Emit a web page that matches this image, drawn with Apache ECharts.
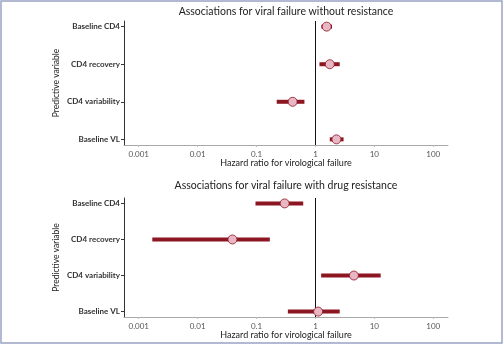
<!DOCTYPE html>
<html>
<head>
<meta charset="utf-8">
<script src="https://cdn.jsdelivr.net/npm/echarts@6/dist/echarts.min.js"></script>
<style>
  html, body { margin: 0; padding: 0; background: #fff; }
  #chart { width: 504px; height: 347px; }
</style>
</head>
<body>
<div id="chart"></div>
<script>
// predictors, top to bottom
const variables = ['Baseline CD4', 'CD4 recovery', 'CD4 variability', 'Baseline VL'];
const xTicks = [0.001, 0.01, 0.1, 1, 10, 100];

// panel 1: viral failure without resistance
const hrNoRes = [1.55, 1.75, 0.41, 2.27];
const loNoRes = [1.26, 1.17, 0.22, 1.75];
const hiNoRes = [1.91, 2.58, 0.65, 3.0];

// panel 2: viral failure with drug resistance
const hrRes = [0.30, 0.039, 4.5, 1.11];
const loRes = [0.096, 0.0017, 1.25, 0.34];
const hiRes = [0.62, 0.168, 12.8, 2.58];

const titles = [
  'Associations for viral failure without resistance',
  'Associations for viral failure with drug resistance'
];

const FONT = 'Lato, "Noto Sans", sans-serif';
const RED = '#8c1622';
const PINK = '#e8b6c4';

const chart = echarts.init(document.getElementById('chart'));

const grids = [
  { left: 124, right: 56, top: 21, height: 124 },
  { left: 124, right: 56, top: 198, height: 119 }
];

function xAxisFor(i) {
  return {
    type: 'log',
    logBase: 10,
    gridIndex: i,
    position: 'bottom',
    min: Math.pow(10, -3.25),
    max: Math.pow(10, 2.25),
    name: 'Hazard ratio for virological failure',
    nameLocation: 'middle',
    nameGap: 13,
    nameTextStyle: { fontFamily: FONT, fontSize: 9, color: '#222' },
    axisLine: { show: true, onZero: false, lineStyle: { color: '#a8a8a8', width: 1 } },
    axisTick: { show: true, length: 2, lineStyle: { color: '#bbb' }, customValues: xTicks },
    axisLabel: {
      customValues: xTicks,
      fontFamily: FONT, fontSize: 8, color: '#555', margin: 5,
      formatter: v => String(+v.toPrecision(3))
    },
    splitLine: { show: false },
    minorTick: { show: false }
  };
}

function yAxisFor(i) {
  return {
    type: 'value',
    gridIndex: i,
    inverse: true,
    min: -0.15,
    max: 3.15,
    name: 'Predictive variable',
    nameLocation: 'middle',
    nameGap: 63,
    nameMoveOverlap: false,
    nameRotate: 90,
    nameTextStyle: { fontFamily: FONT, fontSize: 8.5, color: '#222' },
    axisLine: { show: true, onZero: false, lineStyle: { color: '#333', width: 1 } },
    axisTick: { show: true, length: 3, lineStyle: { color: '#333' }, customValues: [0, 1, 2, 3] },
    axisLabel: {
      customValues: [0, 1, 2, 3],
      fontFamily: FONT, fontSize: 8, fontWeight: 'bold', color: '#333', margin: 4,
      formatter: v => variables[Math.round(v)]
    },
    splitLine: { show: false }
  };
}

function ciSeries(i, lo, hi) {
  return {
    type: 'custom',
    xAxisIndex: i,
    yAxisIndex: i,
    data: variables.map((_, k) => [lo[k], hi[k], k]),
    encode: { x: [0, 1], y: 2 },
    renderItem: (params, api) => {
      const a = api.coord([api.value(0), api.value(2)]);
      const b = api.coord([api.value(1), api.value(2)]);
      return {
        type: 'line',
        shape: { x1: a[0], y1: a[1], x2: b[0], y2: b[1] },
        style: { stroke: RED, lineWidth: 4 }
      };
    },
    z: 2
  };
}

function pointSeries(i, hr) {
  return {
    type: 'scatter',
    xAxisIndex: i,
    yAxisIndex: i,
    data: variables.map((_, k) => [hr[k], k]),
    symbolSize: 9,
    itemStyle: { color: PINK, borderColor: RED, borderWidth: 0.8, opacity: 1 },
    z: 4,
    markLine: {
      silent: true,
      symbol: 'none',
      label: { show: false },
      lineStyle: { color: '#111', type: 'solid', width: 1 },
      data: [{ xAxis: 1 }],
      z: 1
    }
  };
}

chart.setOption({
  animation: false,
  title: titles.map((t, i) => ({
    text: t,
    left: 281,
    top: i === 0 ? 1 : 175,
    textAlign: 'center',
    textStyle: { fontFamily: FONT, fontSize: 10.5, fontWeight: 'normal', color: '#222' }
  })),
  graphic: [{
    type: 'rect',
    shape: { x: 1, y: 1, width: 501, height: 342 },
    style: { fill: 'none', stroke: '#9aa3c4', lineWidth: 1.5 },
    silent: true
  }],
  grid: grids,
  xAxis: [xAxisFor(0), xAxisFor(1)],
  yAxis: [yAxisFor(0), yAxisFor(1)],
  series: [
    ciSeries(0, loNoRes, hiNoRes),
    pointSeries(0, hrNoRes),
    ciSeries(1, loRes, hiRes),
    pointSeries(1, hrRes)
  ]
});
</script>
</body>
</html>
